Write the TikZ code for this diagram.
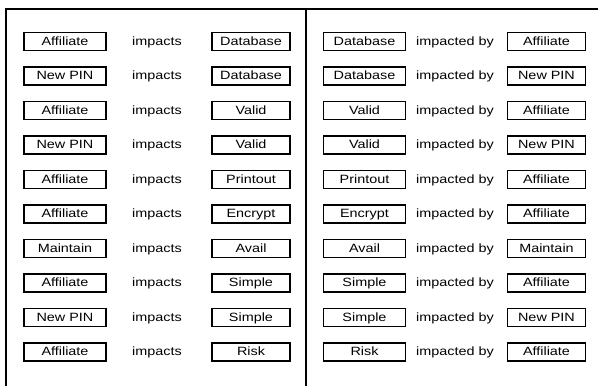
\documentclass[tikz,border=0pt]{standalone}
\usepackage{fontspec}
\setmainfont{Liberation Sans}[FakeStretch=1.2]
\begin{document}
\begin{tikzpicture}[x=1pt,y=1pt,
  frame/.style={line width=1.4pt,black},
  txt/.style={font=\fontsize{12}{14}\selectfont,text height=8.6pt,text depth=0.6pt},
  wbox/.style={txt,draw,line width=1.3pt,minimum height=18pt,inner sep=0pt},
  lbox/.style={wbox,minimum width=82pt},
  rbox/.style={wbox,minimum width=78pt},
  rel/.style={txt,inner sep=0pt}]
\useasboundingbox (0,0) rectangle (598,386);
\coordinate (tl) at (6,377);
\coordinate (tr) at (598,377);
\coordinate (bl) at (6,0);
\coordinate (dt) at (306,377);
\coordinate (db) at (306,0);
\draw[frame] (bl) -- (tl) -- (tr);
\draw[frame] (dt) -- (db);
\foreach \a/\b/\i in {Affiliate/Database/1,New PIN/Database/2,Affiliate/Valid/3,
  New PIN/Valid/4,Affiliate/Printout/5,Affiliate/Encrypt/6,Maintain/Avail/7,
  Affiliate/Simple/8,New PIN/Simple/9,Affiliate/Risk/10}{
  \pgfmathsetmacro{\yy}{386-41.5-34.5*(\i-1)}
  \node[lbox] (la\i) at (65,\yy) {\a};
  \node[rel]  (lr\i) at (157,\yy) {impacts};
  \node[rbox] (lb\i) at (251,\yy) {\b};
  \node[lbox] (ra\i) at (364.5,\yy) {\b};
  \node[rel]  (rr\i) at (455,\yy) {impacted by};
  \node[rbox] (rb\i) at (546.5,\yy) {\a};
}
\end{tikzpicture}
\end{document}
